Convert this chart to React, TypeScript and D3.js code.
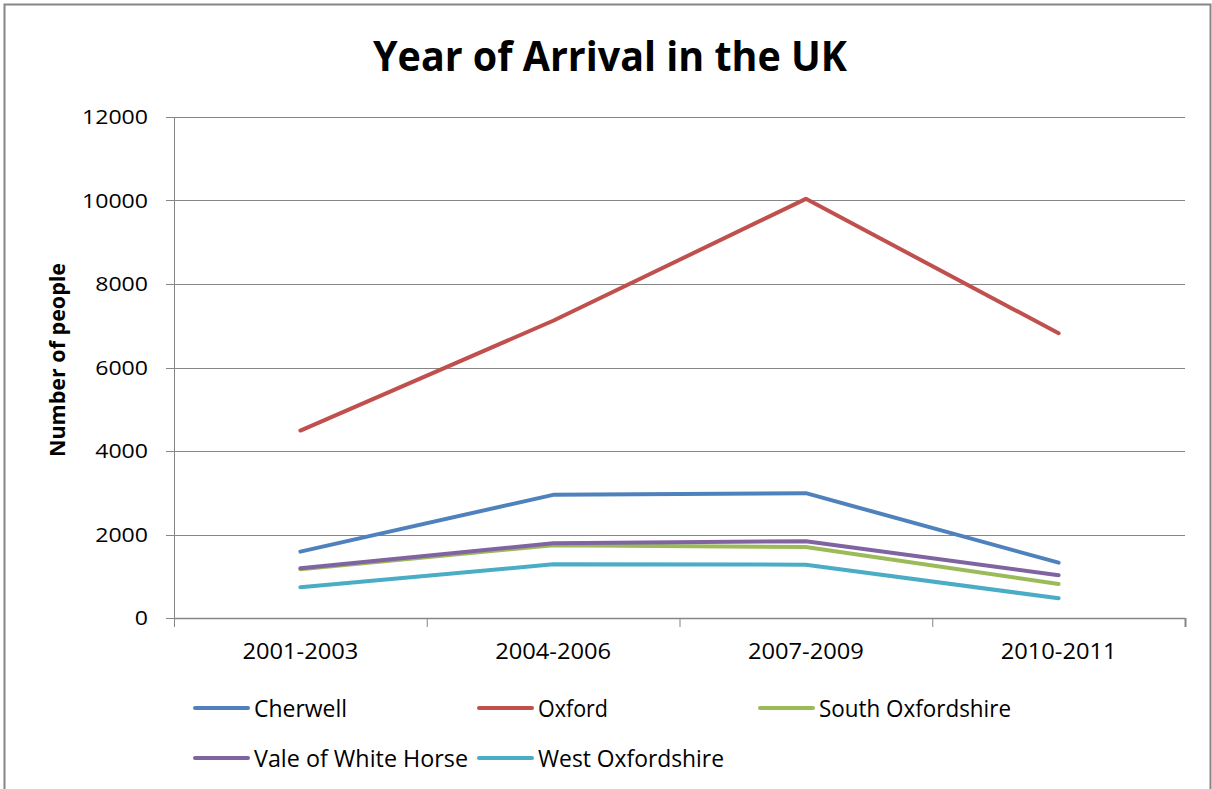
import React from "react";
import * as d3 from "d3";

const categories = ["2001-2003", "2004-2006", "2007-2009", "2010-2011"];
const seriesNames = ["Cherwell", "Oxford", "South Oxfordshire", "Vale of White Horse", "West Oxfordshire"];
const cherwell = [1590, 2950, 2990, 1325];
const oxford = [4490, 7120, 10040, 6820];
const southOxfordshire = [1166, 1745, 1700, 814];
const valeOfWhiteHorse = [1190, 1789, 1840, 1023];
const westOxfordshire = [735, 1286, 1277, 472];
const yTicks = [0, 2000, 4000, 6000, 8000, 10000, 12000];
const colors = ["#4F81BD", "#C0504D", "#9BBB59", "#8064A2", "#4BACC6"];

const allSeries = [cherwell, oxford, southOxfordshire, valeOfWhiteHorse, westOxfordshire];

const FONT = "'Open Sans', 'DejaVu Sans', sans-serif";

export default function App() {
  const W = 1212;
  const H = 789;
  const left = 174;
  const right = 1185;
  const top = 117;
  const bottom = 618;

  const x = d3.scaleBand<string>().domain(categories).range([left, right]).padding(0);
  const y = d3.scaleLinear().domain([0, 12000]).range([bottom, top]);
  const line = d3
    .line<number>()
    .x((_, i) => (x(categories[i]) as number) + x.bandwidth() / 2)
    .y((d) => y(d));

  const gridColor = "#868686";
  const xTickPos = categories.map((c) => x(c) as number).concat([right]);

  const legendItems = [
    { x: 193, y: 708, tw: 93 },
    { x: 477, y: 708, tw: 70 },
    { x: 758, y: 708, tw: 192 },
    { x: 193, y: 758, tw: 214 },
    { x: 477, y: 758, tw: 186 },
  ];

  return (
    <svg
      width={W}
      height={H}
      style={{ position: "absolute", left: 0, top: 0, background: "#fff" }}
      fontFamily={FONT}
    >
      <rect x={0} y={0} width={W} height={H} fill="#fff" />
      <rect x={4.5} y={4.5} width={1206} height={H + 10} fill="none" stroke={gridColor} strokeWidth={2} />

      <text x={610} y={71} textAnchor="middle" fontSize={41} fontWeight="bold" textLength={474} lengthAdjust="spacingAndGlyphs">
        Year of Arrival in the UK
      </text>

      {yTicks.map((t) => (
        <g key={t}>
          <line x1={left - 8} x2={right} y1={Math.round(y(t)) + 0.5} y2={Math.round(y(t)) + 0.5} stroke={gridColor} strokeWidth={1} />
          <text
            x={148}
            y={y(t)}
            dy="0.36em"
            textAnchor="end"
            fontSize={20}
            textLength={String(t).length * 13.2}
            lengthAdjust="spacingAndGlyphs"
          >
            {t}
          </text>
        </g>
      ))}
      <line x1={left + 0.5} x2={left + 0.5} y1={top} y2={bottom + 8} stroke={gridColor} strokeWidth={1} />
      <line x1={left} x2={right} y1={bottom + 0.5} y2={bottom + 0.5} stroke={gridColor} strokeWidth={1.5} />
      {xTickPos.map((p, i) => (
        <line key={i} x1={p + 0.5} x2={p + 0.5} y1={bottom} y2={bottom + 9} stroke={gridColor} strokeWidth={i === xTickPos.length - 1 ? 2 : 1} />
      ))}

      {categories.map((c) => (
        <text key={c} x={(x(c) as number) + x.bandwidth() / 2} y={659} textAnchor="middle" fontSize={21} textLength={116} lengthAdjust="spacingAndGlyphs">
          {c}
        </text>
      ))}

      <text
        transform="translate(65,360) rotate(-90)"
        textAnchor="middle"
        fontSize={22}
        fontWeight="bold"
        textLength={194}
        lengthAdjust="spacingAndGlyphs"
      >
        Number of people
      </text>

      {allSeries.map((s, i) => (
        <path key={i} d={line(s) || ""} fill="none" stroke={colors[i]} strokeWidth={4} strokeLinejoin="round" strokeLinecap="round" />
      ))}

      {seriesNames.map((n, i) => {
        const it = legendItems[i];
        return (
          <g key={n}>
            <line x1={it.x + 2} x2={it.x + 55} y1={it.y} y2={it.y} stroke={colors[i]} strokeWidth={4} strokeLinecap="round" />
            <text x={it.x + 61} y={it.y + 9} fontSize={24} textLength={it.tw} lengthAdjust="spacingAndGlyphs">
              {n}
            </text>
          </g>
        );
      })}
    </svg>
  );
}
